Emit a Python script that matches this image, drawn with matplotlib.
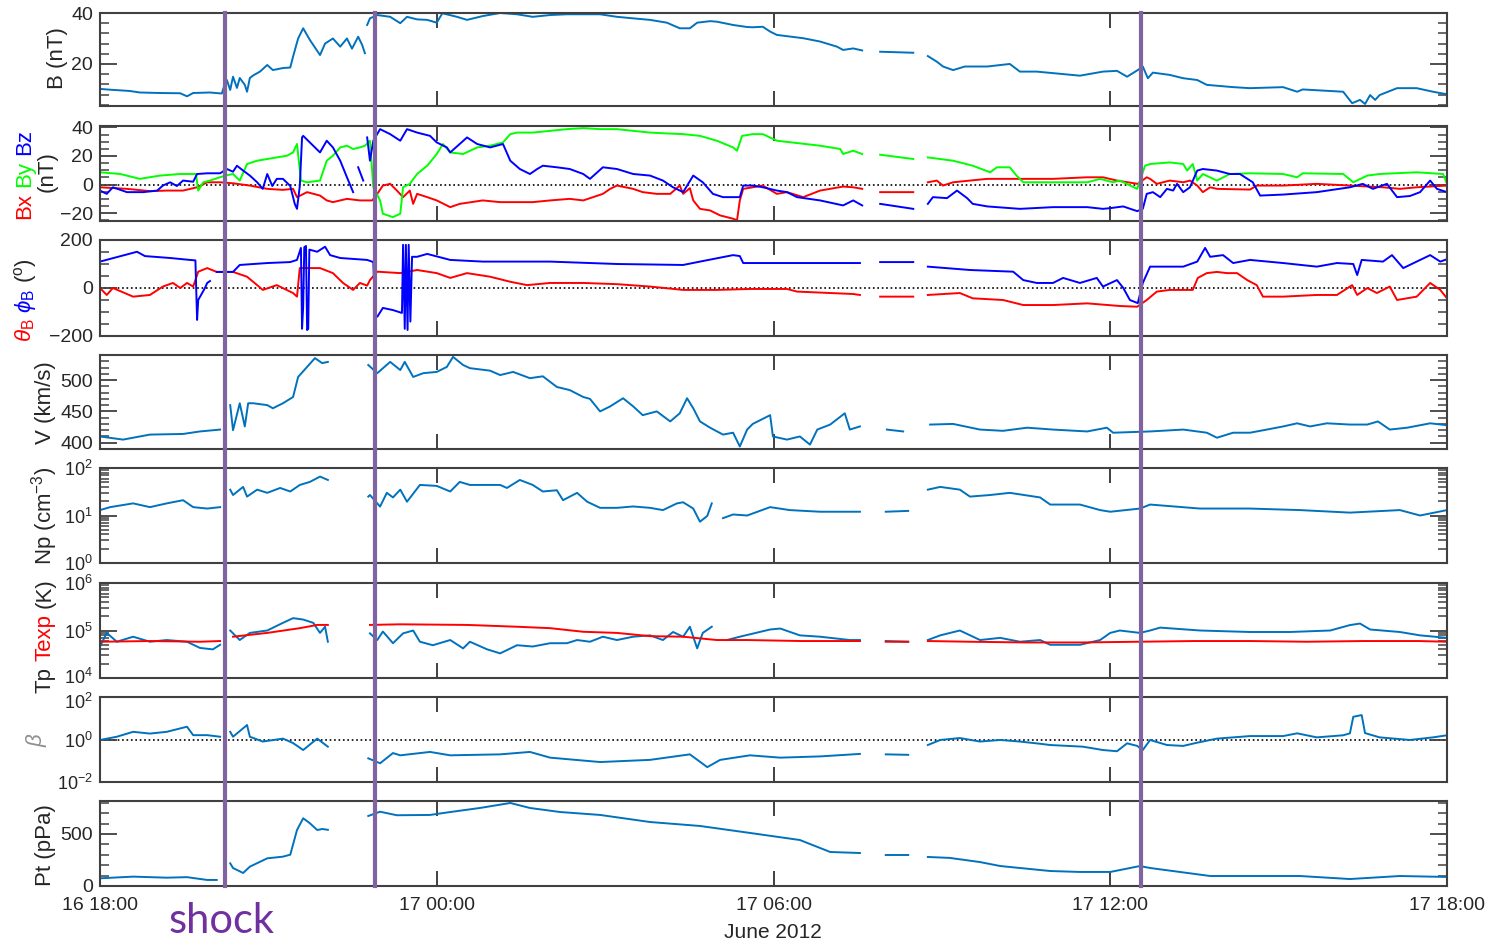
import numpy as np
import matplotlib
matplotlib.use('Agg')
import matplotlib.pyplot as plt
import matplotlib.dates as mdates
from matplotlib.lines import Line2D
from matplotlib.transforms import offset_copy
from matplotlib.ticker import MultipleLocator, LogLocator, NullFormatter, NullLocator

plt.rcParams['font.family'] = ['Liberation Sans', 'DejaVu Sans']
plt.rcParams['mathtext.fontset'] = 'custom'
plt.rcParams['mathtext.rm'] = 'Liberation Sans'
plt.rcParams['mathtext.it'] = 'Liberation Sans:italic'
plt.rcParams['mathtext.bf'] = 'Liberation Sans:bold'

nan = float('nan')

# (hours after 16 June 18:00, value)
B = [(0, 10.2), (0.18, 9.9), (0.53, 9.4), (0.71, 8.8), (1.07, 8.6), (1.43, 8.5), (1.55, 7.3), (1.66, 8.6), (1.96, 8.8), (2.17, 8.4),
     (2.23, 12.5), (2.26, 13.7), (2.32, 9.8), (2.37, 15.0), (2.44, 10.6), (2.49, 14.5), (2.58, 11.8), (2.62, 9.1), (2.67, 14.5),
     (2.73, 15.5), (2.85, 17.0), (2.98, 19.6), (3.08, 17.6), (3.26, 18.4), (3.39, 18.6), (3.44, 22.9), (3.53, 30.0), (3.62, 34.0),
     (3.74, 29.4), (3.92, 23.5), (4.01, 28.0), (4.15, 30.0), (4.28, 26.8), (4.40, 30.0), (4.49, 26.0), (4.60, 30.7), (4.67, 27.5),
     (4.72, 24.2), (4.74, nan),
     (4.76, 35.3), (4.81, 37.9), (4.94, 39.2), (5.17, 38.5), (5.35, 36.0), (5.47, 38.5), (5.65, 37.5), (5.83, 37.3), (6.00, 36.2),
     (6.10, 39.9), (6.36, 38.5), (6.54, 37.3), (6.82, 38.8), (7.13, 40.0), (7.43, 39.5), (7.71, 38.5), (8.02, 39.2), (8.32, 39.5),
     (8.61, 39.5), (8.91, 39.5), (9.21, 38.5), (9.50, 37.9), (9.80, 37.3), (10.10, 36.2), (10.33, 34.0), (10.51, 34.0), (10.64, 36.2),
     (10.87, 36.8), (10.99, 36.6), (11.28, 35.3), (11.53, 34.5), (11.63, 34.4), (11.81, 34.6), (11.94, 32.7), (12.06, 31.4),
     (12.53, 30.1), (12.83, 28.8), (13.13, 26.8), (13.24, 25.5), (13.42, 26.1), (13.58, 25.3),
     (13.7, nan), (13.90, 24.8), (14.20, 24.6), (14.49, 24.4), (14.6, nan),
     (14.75, 23.1), (14.91, 20.9), (15.02, 19.0), (15.20, 17.6), (15.41, 19.0), (15.81, 19.0), (16.21, 20.0), (16.39, 17.0),
     (16.69, 17.0), (16.98, 16.4), (17.46, 15.4), (17.87, 17.0), (18.12, 17.3), (18.30, 15.0), (18.49, 17.6), (18.58, 19.0),
     (18.67, 14.4), (18.76, 16.6), (19.06, 15.7), (19.30, 14.4), (19.55, 13.7), (19.72, 11.8), (20.19, 10.9), (20.49, 10.5),
     (21.08, 10.9), (21.33, 9.1), (21.43, 10.0), (22.15, 9.1), (22.31, 4.6), (22.45, 5.9), (22.54, 4.3), (22.63, 7.8),
     (22.72, 5.9), (22.80, 7.8), (23.11, 10.5), (23.46, 10.5), (23.75, 9.1), (24.0, 8.1)]

Bx = [(0, -1.9), (0.48, -3.0), (0.89, -4.6), (1.19, -4.2), (1.48, -4.2), (1.73, -1.9), (1.91, 1.6), (2.14, 1.6), (2.37, 0.9),
      (2.67, -0.7), (2.98, -3.0), (3.26, -3.7), (3.44, -3.0), (3.51, -8.8), (3.69, -5.3), (3.92, -7.7), (4.04, -11.1), (4.15, -12.3),
      (4.40, -10.0), (4.63, -11.1), (4.85, -11.1), (4.94, -6.5), (5.04, -0.7), (5.17, 0.5), (5.29, -4.2), (5.40, -8.8), (5.52, -4.2),
      (5.58, -13.5), (5.65, -6.5), (5.83, -8.8), (6.00, -11.1), (6.24, -15.8), (6.41, -13.5), (6.82, -11.1), (7.13, -12.3),
      (7.43, -12.3), (7.71, -12.3), (8.02, -11.1), (8.37, -10.0), (8.61, -11.1), (8.96, -6.5), (9.09, -3.0), (9.21, -0.7),
      (9.50, -3.0), (9.67, -5.3), (9.92, -6.5), (10.16, -6.5), (10.33, -0.7), (10.39, -6.5), (10.51, -2.5), (10.57, -11.1),
      (10.69, -17.0), (10.87, -18.1), (11.05, -21.6), (11.28, -23.9), (11.35, -25.0), (11.40, -11.1), (11.46, -3.0), (11.63, -1.9),
      (11.81, -0.7), (12.06, -6.5), (12.24, -5.3), (12.53, -8.8), (12.83, -4.2), (13.24, -1.4), (13.42, -1.9), (13.58, -3.0),
      (13.7, nan), (13.90, -5.3), (14.49, -5.3), (14.6, nan),
      (14.75, 1.6), (14.91, 2.8), (15.02, -0.7), (15.20, 1.6), (15.50, 2.8), (15.81, 4.0), (16.39, 4.0), (16.98, 4.0), (17.59, 5.1),
      (17.87, 5.1), (18.12, 2.8), (18.49, 0.5), (18.65, 5.1), (18.71, 4.0), (18.83, 0.5), (19.06, 2.8), (19.30, 1.6), (19.42, 2.8),
      (19.55, -0.7), (19.65, -5.3), (19.78, -1.9), (19.90, -3.0), (20.49, -3.5), (20.61, -0.7), (21.08, -0.7), (21.68, 0.5),
      (22.27, -0.7), (22.86, -1.9), (23.16, -3.0), (23.46, -1.9), (24.0, -0.7)]

By = [(0, 8.6), (0.36, 7.4), (0.71, 4.0), (1.07, 6.3), (1.43, 7.4), (1.71, 7.4), (1.75, -4.2), (1.84, 1.6), (1.96, 2.8),
      (2.23, 6.3), (2.37, 7.4), (2.49, 2.8), (2.62, 14.4), (2.80, 16.7), (2.98, 17.9), (3.15, 19.0), (3.33, 20.2), (3.44, 22.5),
      (3.51, 28.4), (3.58, 2.8), (3.69, 1.6), (3.92, 2.8), (4.04, 16.7), (4.15, 20.2), (4.28, 26.0), (4.40, 27.2), (4.51, 24.9),
      (4.63, 26.0), (4.72, 27.2), (4.81, 30.7), (4.87, -1.9), (4.99, -11.1), (5.04, -20.4), (5.22, -22.8), (5.35, -20.4),
      (5.40, -1.9), (5.52, 0.5), (5.65, 7.4), (5.83, 13.2), (6.00, 21.4), (6.11, 28.4), (6.24, 22.5), (6.47, 21.4), (6.72, 26.0),
      (6.95, 27.2), (7.18, 29.5), (7.31, 35.3), (7.43, 36.4), (7.71, 36.4), (8.02, 37.6), (8.32, 38.8), (8.61, 39.5), (8.91, 38.8),
      (9.21, 38.8), (9.50, 37.6), (9.80, 36.4), (10.10, 35.8), (10.39, 35.3), (10.69, 34.1), (10.99, 30.7), (11.28, 26.0),
      (11.35, 23.7), (11.44, 34.1), (11.63, 35.3), (11.81, 35.3), (12.06, 30.7), (12.83, 27.2), (13.19, 24.9), (13.24, 21.4),
      (13.42, 23.7), (13.58, 21.4),
      (13.7, nan), (13.90, 20.9), (14.49, 17.9), (14.6, nan),
      (14.75, 19.0), (15.20, 16.7), (15.55, 13.2), (15.86, 8.6), (15.98, 12.1), (16.21, 12.1), (16.33, 6.3), (16.45, 1.6),
      (16.98, 1.6), (17.59, 1.6), (17.82, 4.0), (18.05, 1.6), (18.17, 2.8), (18.48, -3.0), (18.62, 13.2), (18.71, 14.4),
      (19.06, 15.5), (19.30, 14.4), (19.37, 9.8), (19.47, 14.4), (19.55, 2.8), (19.65, 7.4), (19.90, 2.8), (20.13, 7.4),
      (20.49, 7.9), (21.08, 7.4), (21.33, 5.1), (21.43, 7.9), (22.15, 7.4), (22.33, 1.6), (22.58, 6.3), (22.80, 7.4),
      (23.46, 8.6), (23.93, 7.4), (24.0, 0.5)]

Bz = [(0, -4.2), (0.12, -6.5), (0.23, -1.9), (0.48, -5.3), (0.77, -5.3), (1.02, -4.2), (1.12, -0.7), (1.25, 1.6), (1.37, -1.0),
      (1.48, 2.8), (1.66, 2.0), (1.73, 7.4), (1.91, 7.9), (2.14, 7.9), (2.26, 10.9), (2.37, 9.0), (2.44, 13.2), (2.55, 9.8),
      (2.67, 6.3), (2.80, 1.6), (2.90, -3.0), (2.98, 7.4), (3.07, -1.0), (3.15, 4.0), (3.26, 4.0), (3.39, -1.0), (3.47, -13.5),
      (3.51, -17.0), (3.56, -1.0), (3.60, 33.0), (3.62, 34.1), (3.74, 29.5), (3.92, 22.5), (4.04, 30.7), (4.15, 26.0), (4.28, 16.7),
      (4.40, 5.1), (4.51, -5.3), (4.55, nan), (4.60, 12.1), (4.69, 2.8), (4.72, nan), (4.76, 33.0), (4.81, 16.7), (4.87, 30.7),
      (4.99, 38.8), (5.17, 35.3), (5.35, 30.7), (5.47, 38.8), (5.65, 36.4), (5.88, 34.1), (6.00, 29.5), (6.18, 26.0), (6.24, 22.5),
      (6.41, 28.4), (6.54, 33.0), (6.72, 28.4), (6.95, 26.0), (7.18, 28.4), (7.31, 16.7), (7.48, 10.9), (7.66, 7.4), (7.79, 10.9),
      (7.89, 13.2), (8.14, 12.1), (8.37, 10.9), (8.61, 7.4), (8.73, 4.0), (8.96, 12.1), (9.21, 10.9), (9.50, 7.4), (9.80, 6.3),
      (10.03, 2.8), (10.21, -1.9), (10.39, -5.3), (10.57, 6.3), (10.74, 1.6), (10.92, -6.5), (11.10, -8.8), (11.40, -8.8),
      (11.46, -0.7), (11.63, -0.7), (11.81, -1.9), (12.06, -4.2), (12.24, -5.3), (12.42, -8.8), (12.83, -11.1), (13.24, -14.6),
      (13.42, -11.1), (13.58, -14.6),
      (13.7, nan), (13.90, -13.5), (14.49, -17.0), (14.6, nan),
      (14.75, -13.5), (14.84, -8.8), (15.09, -9.5), (15.27, -4.2), (15.45, -9.5), (15.55, -13.5), (15.81, -15.3), (16.39, -17.0),
      (16.98, -15.8), (17.59, -15.8), (17.87, -17.0), (18.00, -16.5), (18.23, -15.3), (18.48, -18.6), (18.58, -17.0),
      (18.65, -6.5), (18.76, -5.3), (18.89, -8.8), (19.01, -3.0), (19.12, -4.2), (19.19, 0.5), (19.30, -5.3), (19.42, -1.9),
      (19.55, 9.8), (19.65, 10.9), (19.90, 9.8), (20.13, 7.4), (20.31, 7.4), (20.54, 1.6), (20.67, -7.7), (21.08, -7.0),
      (21.68, -5.3), (22.27, -1.9), (22.50, 0.5), (22.68, -3.0), (22.93, 0.5), (23.11, -8.8), (23.34, -8.0), (23.52, -5.3),
      (23.70, 2.8), (23.82, -3.0), (24.0, -5.3)]

theta_B = [(0, 0), (0.12, -29), (0.23, 0), (0.59, -36), (0.89, -29), (1.12, 6), (1.30, 21), (1.43, 0), (1.55, 21), (1.66, 6),
           (1.75, 68), (1.91, 83), (2.08, 67), (2.37, 67), (2.62, 47), (2.80, 12), (2.90, -8), (3.15, 12), (3.44, -21), (3.51, -36),
           (3.56, 83), (3.69, 83), (3.92, 83), (4.15, 62), (4.33, 21), (4.51, -8), (4.63, 21), (4.76, 10), (4.81, 33), (4.94, 68),
           (5.35, 62), (5.65, 75), (6.00, 62), (6.24, 42), (6.54, 62), (6.95, 47), (7.31, 26), (7.61, 12), (8.02, 21), (8.61, 21),
           (9.21, 16), (9.80, 6), (10.39, -8), (10.99, -8), (11.58, -4), (12.24, -4), (12.42, -15), (13.42, -25), (13.54, -29),
           (13.7, nan), (13.90, -36), (14.49, -36), (14.6, nan),
           (14.75, -29), (15.32, -21), (15.55, -43), (16.09, -50), (16.45, -71), (16.98, -71), (17.59, -64), (18.17, -75),
           (18.48, -78), (18.65, -50), (18.83, -15), (19.06, -8), (19.47, -8), (19.56, 42), (19.72, 62), (19.90, 67), (20.08, 62),
           (20.26, 62), (20.44, 33), (20.61, 12), (20.72, -36), (21.08, -36), (21.68, -29), (22.04, -29), (22.31, 12), (22.40, -29),
           (22.58, 0), (22.75, -21), (22.98, 6), (23.11, -50), (23.46, -36), (23.70, 21), (23.88, -8), (24.0, -43)]

phi_B = [(0, 110), (0.66, 151), (0.80, 133), (1.25, 125), (1.60, 117), (1.70, 115), (1.73, -133), (1.75, -50), (1.87, 0),
         (1.91, 21), (1.96, 29), (2.0, nan), (2.08, 67), (2.19, 67), (2.26, 67), (2.37, 67), (2.49, 96), (2.98, 104), (3.39, 108),
         (3.51, 117), (3.58, 167), (3.60, -170), (3.62, -78), (3.64, 170), (3.67, 175), (3.69, -175), (3.71, -170), (3.73, 160),
         (3.87, 151), (4.01, 172), (4.10, 137), (4.28, 125), (4.76, 117), (4.87, 108), (4.90, -110), (4.94, -120), (5.04, -83),
         (5.22, -92), (5.38, -104), (5.40, 180), (5.43, -170), (5.45, 180), (5.48, -175), (5.50, 180), (5.53, -140), (5.56, 130),
         (5.65, 130), (5.83, 142), (6.24, 117), (6.82, 110), (8.02, 110), (9.21, 100), (10.39, 96), (10.69, 110), (11.28, 137),
         (11.40, 133), (11.46, 104), (11.99, 104), (13.54, 104),
         (13.7, nan), (13.90, 108), (14.49, 108), (14.6, nan),
         (14.75, 89), (15.50, 75), (16.27, 68), (16.45, 33), (16.69, 21), (16.98, 21), (17.16, 42), (17.46, 21), (17.76, 42),
         (17.87, 6), (18.12, 33), (18.23, 1), (18.35, -50), (18.49, -63), (18.58, 21), (18.71, 89), (19.30, 89), (19.55, 110),
         (19.69, 167), (19.78, 130), (20.01, 137), (20.19, 104), (20.49, 117), (21.08, 104), (21.68, 89), (22.04, 104),
         (22.33, 100), (22.40, 54), (22.48, 117), (22.86, 110), (23.02, 137), (23.22, 83), (23.46, 110), (23.70, 137),
         (23.88, 110), (24.0, 120)]

V = [(0, 410), (0.41, 405), (0.89, 413), (1.48, 414), (1.78, 418), (2.14, 421), (2.2, nan), (2.32, 460), (2.37, 420), (2.49, 463),
     (2.58, 426), (2.64, 463), (2.73, 463), (2.98, 460), (3.08, 455), (3.26, 463), (3.44, 473), (3.53, 505), (3.69, 521),
     (3.83, 535), (3.96, 527), (4.06, 529), (4.3, nan), (4.78, 524), (4.94, 511), (5.17, 529), (5.35, 516), (5.43, 529),
     (5.58, 505), (5.76, 511), (6.00, 513), (6.18, 521), (6.29, 537), (6.47, 524), (6.59, 519), (6.95, 515), (7.13, 508),
     (7.36, 513), (7.66, 503), (7.89, 506), (8.14, 489), (8.37, 484), (8.61, 473), (8.73, 470), (8.91, 450), (9.09, 458),
     (9.32, 471), (9.50, 458), (9.67, 444), (9.92, 450), (10.16, 434), (10.33, 447), (10.46, 471), (10.57, 455), (10.69, 434),
     (10.87, 424), (11.10, 413), (11.28, 416), (11.40, 394), (11.53, 421), (11.63, 430), (11.94, 444), (11.99, 410),
     (12.24, 405), (12.47, 410), (12.65, 397), (12.78, 421), (13.01, 429), (13.27, 447), (13.36, 421), (13.54, 426),
     (13.7, nan), (14.02, 421), (14.31, 418), (14.5, nan),
     (14.79, 429), (15.20, 430), (15.68, 421), (16.09, 419), (16.52, 424), (16.98, 421), (17.59, 418), (17.94, 424),
     (18.05, 416), (18.71, 418), (19.30, 421), (19.72, 416), (19.90, 408), (20.19, 416), (20.49, 416), (20.79, 421),
     (21.08, 426), (21.33, 431), (21.56, 426), (21.86, 431), (22.27, 429), (22.58, 429), (22.77, 434), (22.98, 421),
     (23.29, 424), (23.70, 431), (24.0, 428)]

Np = [(0, 13), (0.18, 15), (0.59, 18), (0.89, 15), (1.19, 18), (1.48, 21), (1.66, 15), (1.91, 14), (2.14, 15), (2.2, nan),
      (2.32, 35), (2.37, 27), (2.55, 40), (2.62, 25), (2.80, 35), (2.98, 30), (3.21, 38), (3.39, 32), (3.56, 44), (3.74, 51),
      (3.92, 66), (4.06, 56), (4.3, nan), (4.78, 25), (4.81, 27), (4.99, 15.4), (5.11, 30), (5.22, 24), (5.35, 35), (5.47, 19.5),
      (5.70, 44), (6.00, 42), (6.24, 32), (6.41, 51), (6.59, 44), (7.13, 44), (7.25, 38), (7.48, 56), (7.71, 44),
      (7.89, 32), (8.14, 34), (8.25, 21), (8.50, 30), (8.68, 19.5), (8.91, 14.5), (9.21, 14.5), (9.50, 15.5), (9.80, 14.5),
      (10.03, 13), (10.28, 18), (10.39, 19), (10.57, 14), (10.69, 7.4), (10.82, 9.8), (10.90, 18), (10.95, nan), (11.10, 8.8),
      (11.28, 10.5), (11.53, 10), (11.94, 15), (12.29, 13), (12.83, 12), (13.54, 12),
      (13.7, nan), (14.0, 12), (14.4, 12.5), (14.6, nan),
      (14.75, 35), (14.97, 40), (15.32, 35), (15.50, 25), (15.86, 27), (16.21, 30), (16.75, 24), (16.93, 17), (17.46, 17),
      (17.82, 13), (18.00, 12), (18.53, 14), (18.71, 17), (19.60, 14), (20.49, 14), (21.38, 13), (22.27, 11.5), (23.16, 13),
      (23.52, 10), (24.0, 13)]

Tp = [(0, 46e3), (0.12, 89e3), (0.30, 58e3), (0.59, 74e3), (0.89, 58e3), (1.19, 63e3), (1.55, 58e3), (1.78, 43e3),
      (2.01, 40e3), (2.14, 50e3), (2.2, nan), (2.32, 100e3), (2.49, 63e3), (2.67, 89e3), (2.98, 100e3), (3.26, 145e3),
      (3.44, 182e3), (3.62, 170e3), (3.80, 145e3), (3.92, 89e3), (4.01, 120e3), (4.06, 58e3), (4.3, nan), (4.81, 87e3),
      (4.94, 63e3), (5.04, 95e3), (5.22, 54e3), (5.40, 87e3), (5.58, 100e3), (5.70, 58e3), (5.93, 49e3), (6.24, 63e3),
      (6.47, 42e3), (6.59, 58e3), (6.9, 40e3), (7.13, 33e3), (7.43, 49e3), (7.71, 46e3), (8.02, 54e3), (8.32, 54e3),
      (8.50, 63e3), (8.73, 58e3), (8.96, 74e3), (9.21, 63e3), (9.50, 74e3), (9.80, 79e3), (10.03, 63e3), (10.21, 93e3),
      (10.39, 74e3), (10.51, 120e3), (10.64, 42e3), (10.74, 89e3), (10.90, 120e3), (11.0, nan), (11.17, 63e3), (11.40, 74e3),
      (11.94, 105e3), (12.12, 110e3), (12.47, 79e3), (12.83, 74e3), (13.36, 63e3), (13.54, 63e3),
      (13.7, nan), (14.0, 60e3), (14.4, 58e3), (14.6, nan),
      (14.75, 63e3), (14.97, 79e3), (15.32, 100e3), (15.68, 63e3), (16.04, 70e3), (16.39, 58e3), (16.75, 63e3), (16.93, 50e3),
      (17.46, 50e3), (17.82, 63e3), (18.00, 89e3), (18.17, 100e3), (18.53, 89e3), (18.71, 100e3), (18.89, 115e3),
      (19.60, 100e3), (20.49, 93e3), (21.20, 93e3), (21.92, 100e3), (22.27, 130e3), (22.45, 140e3), (22.63, 105e3),
      (23.16, 93e3), (23.52, 79e3), (24.0, 70e3)]

Texp = [(0, 58e3), (0.89, 60e3), (1.78, 58e3), (2.14, 60e3), (2.2, nan), (2.37, 74e3), (2.98, 89e3), (3.56, 112e3),
        (3.87, 131e3), (4.06, 131e3), (4.3, nan), (4.81, 131e3), (5.35, 135e3), (6.54, 131e3), (7.43, 120e3), (8.02, 112e3),
        (8.61, 94e3), (9.21, 89e3), (9.80, 76e3), (10.39, 74e3), (10.99, 63e3), (11.53, 63e3), (12.5, 60e3), (13.54, 60e3),
        (13.7, nan), (14.0, 58e3), (14.4, 58e3), (14.6, nan),
        (14.75, 60e3), (15.5, 58e3), (16.5, 56e3), (17.5, 56e3), (18.5, 58e3), (19.5, 60e3), (20.5, 60e3), (21.5, 58e3),
        (22.5, 60e3), (23.5, 60e3), (24.0, 58e3)]

beta = [(0, 0.95), (0.30, 1.35), (0.59, 2.3), (0.89, 1.9), (1.19, 2.3), (1.55, 4.0), (1.66, 1.6), (1.91, 1.6), (2.14, 1.35),
        (2.2, nan), (2.32, 2.3), (2.37, 1.35), (2.62, 4.8), (2.67, 1.35), (2.90, 0.8), (3.26, 1.1), (3.44, 0.68), (3.62, 0.32),
        (3.87, 1.1), (4.06, 0.46), (4.3, nan), (4.78, 0.13), (4.99, 0.076), (5.22, 0.23), (5.35, 0.18), (5.88, 0.26),
        (6.24, 0.18), (7.13, 0.2), (7.66, 0.26), (8.02, 0.14), (8.91, 0.087), (9.80, 0.11), (10.51, 0.2), (10.82, 0.05),
        (11.05, 0.11), (11.58, 0.18), (12.12, 0.14), (12.83, 0.16), (13.54, 0.21),
        (13.7, nan), (14.0, 0.2), (14.4, 0.19), (14.6, nan),
        (14.75, 0.55), (14.97, 0.95), (15.32, 1.17), (15.68, 0.8), (16.04, 0.95), (16.39, 0.8), (16.75, 0.63), (16.93, 0.55),
        (17.51, 0.46), (17.87, 0.32), (18.12, 0.28), (18.30, 0.66), (18.48, 0.5), (18.58, 0.32), (18.71, 0.95), (19.01, 0.55),
        (19.30, 0.5), (19.55, 0.71), (19.90, 1.1), (20.49, 1.45), (21.08, 1.45), (21.33, 1.95), (21.68, 1.26), (22.15, 1.58),
        (22.27, 1.95), (22.33, 11.7), (22.48, 14.1), (22.54, 2.0), (22.80, 1.26), (23.34, 0.95), (23.75, 1.26), (24.0, 1.58)]

Pt = [(0, 74), (0.59, 90), (1.19, 80), (1.55, 85), (1.91, 58), (2.08, 58), (2.2, nan), (2.32, 218), (2.37, 173), (2.55, 125),
      (2.67, 186), (2.98, 266), (3.26, 282), (3.39, 301), (3.51, 538), (3.62, 651), (3.74, 603), (3.87, 538), (3.96, 548),
      (4.06, 540), (4.3, nan), (4.78, 673), (4.99, 714), (5.29, 680), (5.88, 683), (6.24, 711), (6.77, 750), (7.31, 798),
      (7.66, 750), (8.20, 711), (8.91, 683), (9.80, 615), (10.69, 577), (11.58, 510), (12.47, 442), (13.01, 327), (13.54, 317),
      (13.7, nan), (14.0, 298), (14.4, 298), (14.6, nan),
      (14.75, 279), (15.14, 270), (15.68, 230), (16.04, 192), (16.93, 144), (17.46, 135), (18.00, 135), (18.53, 192),
      (18.71, 173), (19.24, 135), (19.78, 96), (20.49, 96), (21.38, 96), (22.27, 67), (23.16, 96), (24.0, 87)]

event_hours = [2.23, 4.90, 18.54]

W, H = 1495, 944
t0 = mdates.date2num(np.datetime64('2012-06-16T18:00'))
mblue = '#0072BD'
dark = '#262626'


def series(pairs):
    a = np.array(pairs, dtype=float)
    return t0 + a[:, 0] / 24.0, a[:, 1]


fig = plt.figure(figsize=(W / 100, H / 100), dpi=100)
panel_px = [(13, 106), (126, 221), (240, 336), (355, 449), (468, 563), (583, 678), (697, 782), (801, 886)]
axes = []
for top, bot in panel_px:
    axes.append(fig.add_axes([100 / W, 1 - bot / H, 1347 / W, (bot - top) / H]))

for i, ax in enumerate(axes):
    for s in ax.spines.values():
        s.set_color('#404040')
        s.set_linewidth(1.5)
    ax.set_xlim(t0, t0 + 1)
    ax.xaxis.set_major_locator(mdates.HourLocator(byhour=[0, 6, 12, 18]))
    ax.xaxis.set_major_formatter(mdates.DateFormatter('%d %H:%M'))
    ax.tick_params(which='both', direction='in', top=True, right=True, colors='#404040',
                   labelsize=14, labelcolor=dark)
    ax.tick_params(axis='y', which='major', length=12, width=1.3, pad=5)
    ax.tick_params(axis='y', which='minor', length=6.5, width=1.1)
    ax.tick_params(axis='x', which='major', length=11, width=1.4, pad=8)
    if i < 7:
        ax.tick_params(axis='x', labelbottom=False)

# panel 1: |B|
ax = axes[0]
ax.plot(*series(B), color=mblue, lw=1.4)
ax.set_ylim(3.5, 40)
ax.yaxis.set_major_locator(MultipleLocator(20))
ax.yaxis.set_minor_locator(MultipleLocator(4))

# panel 2: components
ax = axes[1]
ax.axhline(0, color='k', ls=':', lw=1.2, zorder=1)
ax.plot(*series(Bx), color='#FF0000', lw=1.4)
ax.plot(*series(By), color='#00FF00', lw=1.4)
ax.plot(*series(Bz), color='#0000FF', lw=1.4)
ax.set_ylim(-25.5, 41)
ax.yaxis.set_major_locator(MultipleLocator(20))
ax.yaxis.set_minor_locator(MultipleLocator(5))

# panel 3: angles
ax = axes[2]
ax.axhline(0, color='k', ls=':', lw=1.2, zorder=1)
ax.plot(*series(theta_B), color='#FF0000', lw=1.4)
ax.plot(*series(phi_B), color='#0000FF', lw=1.4)
ax.set_ylim(-200, 200)
ax.yaxis.set_major_locator(MultipleLocator(200))
ax.yaxis.set_minor_locator(MultipleLocator(50))

# panel 4: speed
ax = axes[3]
ax.plot(*series(V), color=mblue, lw=1.4)
ax.set_ylim(390, 540)
ax.yaxis.set_major_locator(MultipleLocator(50))
ax.yaxis.set_minor_locator(MultipleLocator(10))

# panel 5: density
ax = axes[4]
ax.plot(*series(Np), color=mblue, lw=1.4)
ax.set_yscale('log')
ax.set_ylim(1, 100)
ax.set_yticks([1, 10, 100])

# panel 6: temperatures
ax = axes[5]
ax.plot(*series(Tp), color=mblue, lw=1.4)
ax.plot(*series(Texp), color='#FF0000', lw=1.4)
ax.set_yscale('log')
ax.set_ylim(1e4, 1e6)
ax.set_yticks([1e4, 1e5, 1e6])

for ax in axes[4:6]:
    ax.yaxis.set_minor_locator(LogLocator(base=10, subs=np.arange(2, 10), numticks=20))
    ax.yaxis.set_minor_formatter(NullFormatter())

# panel 7: beta
ax = axes[6]
ax.axhline(1, color='k', ls=':', lw=1.2, zorder=1)
ax.plot(*series(beta), color=mblue, lw=1.4)
ax.set_yscale('log')
ax.set_ylim(1e-2, 1e2)
ax.set_yticks([1e-2, 1, 1e2])
ax.yaxis.set_minor_locator(NullLocator())

# log labels a bit smaller; nudge the crowded ones between panels 6 and 7
for ax in axes[4:7]:
    ax.tick_params(axis='y', labelsize=13)
labs6 = axes[5].get_yticklabels()
labs6[0].set_transform(offset_copy(labs6[0].get_transform(), fig=fig, y=2, units='dots'))
labs7 = axes[6].get_yticklabels()
labs7[-1].set_transform(offset_copy(labs7[-1].get_transform(), fig=fig, y=-4, units='dots'))

# panel 8: total pressure
ax = axes[7]
ax.plot(*series(Pt), color=mblue, lw=1.4)
ax.set_ylim(0, 817)
ax.yaxis.set_major_locator(MultipleLocator(500))
ax.yaxis.set_minor_locator(MultipleLocator(100))

# vertical event lines spanning all panels
for h in event_hours:
    xd = axes[0].transData.transform((t0 + h / 24.0, 10))[0]
    xf = fig.transFigure.inverted().transform((xd, 0))[0]
    fig.add_artist(Line2D([xf, xf], [1 - 13 / H, 1 - 886 / H], transform=fig.transFigure,
                          color='#8064A2', lw=3.0, zorder=10))

# y labels, stacked coloured pieces written bottom to top
renderer = fig.canvas.get_renderer()


def vlabel(xb, yc, parts, size=16, gap=6):
    texts = []
    for s, c in parts:
        texts.append(fig.text(0, 0, s, color=c, fontsize=size, rotation=90,
                              rotation_mode='anchor', ha='left', va='baseline'))
    lens = [t.get_window_extent(renderer).height for t in texts]
    total = sum(lens) + gap * (len(parts) - 1)
    y = yc + total / 2
    for t, L in zip(texts, lens):
        t.set_position((xb / W, 1 - y / H))
        y -= L + gap


vlabel(63, 58, [('B (nT)', dark)])
vlabel(30, 174, [('Bx', '#FF0000'), ('By', '#00FF00'), ('Bz', '#0000FF')])
vlabel(53, 172, [('(nT)', dark)])
vlabel(31, 300, [(r'$\theta_{\rm B}$', '#FF0000'), (r'$\phi_{\rm B}$', '#0000FF'), (r'($^{\rm o}$)', dark)])
vlabel(51, 403, [('V (km/s)', dark)])
vlabel(51, 516, [(r'Np (cm$^{-3}$)', dark)])
vlabel(51, 636, [('Tp', dark), ('Texp', '#FF0000'), ('(K)', dark)])
vlabel(42, 740, [(r'$\beta$', '#909090')])
vlabel(51, 845, [('Pt (pPa)', dark)])

fig.text(773 / W, 1 - 933 / H, 'June 2012', fontsize=15, color=dark, ha='center', va='center')
fig.text(222 / W, 1 - 933 / H, 'shock', fontsize=30, color='#7030A0', family='Lato',
         ha='center', va='baseline')

fig.savefig('out.png', dpi=100)
